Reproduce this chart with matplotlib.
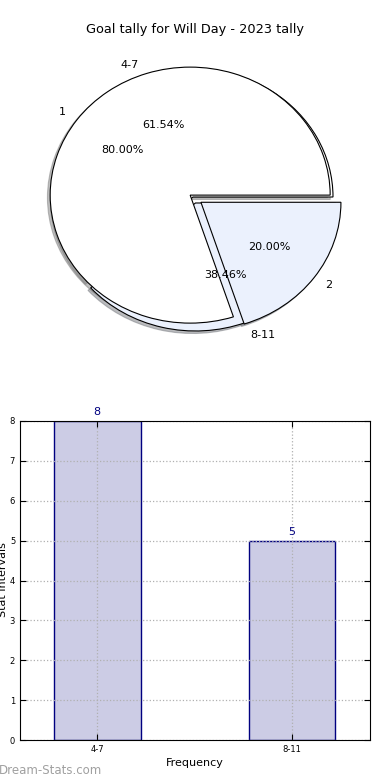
"""Goal tally chart: overlaid pies on top, frequency bars below."""
import matplotlib
matplotlib.use("Agg")
import matplotlib.pyplot as plt

title = "Goal tally for Will Day - 2023 tally"

# pie of goal-count intervals
interval_labels = ["4-7", "8-11"]
interval_counts = [8, 5]

# pie of goals per game
goal_labels = ["1", "2"]
goal_counts = [4, 1]

pie_colors = ["#ffffff", "#ebf1fd"]
bar_face = "#cccce5"
bar_edge = "#000080"

fig = plt.figure(figsize=(3.9, 7.8), dpi=100)
fig.text(0.5, 1 - 30 / 780, title, ha="center", va="center", fontsize=9.3)

# top: two pies drawn on one set of axes
ax1 = fig.add_axes([18 / 390, 1 - 357 / 780, 350 / 390, 320 / 780])
wp = dict(edgecolor="black", linewidth=0.8)
sh = dict(ox=-0.014, oy=-0.014, shade=0.5)
ax1.pie(interval_counts, labels=interval_labels, colors=pie_colors,
        explode=(0, 0.05), autopct="%1.2f%%", shadow=sh,
        wedgeprops=wp, textprops=dict(fontsize=8))
ax1.pie(goal_counts, labels=goal_labels, colors=pie_colors,
        explode=(0.025, 0.07), autopct="%1.2f%%", shadow=sh,
        wedgeprops=wp, textprops=dict(fontsize=8))
ax1.set_aspect("auto")
ax1.set_xlim(-1.25, 1.25)
ax1.set_ylim(-1.25, 1.25)

# bottom: bar chart of the interval counts
ax2 = fig.add_axes([20 / 390, 40 / 780, 350 / 390, 319 / 780])
xs = range(len(interval_labels))
bars = ax2.bar(xs, interval_counts, width=0.446, color=bar_face,
               edgecolor=bar_edge, linewidth=1.0, zorder=1)
for b, v in zip(bars, interval_counts):
    ax2.text(b.get_x() + b.get_width() / 2, v + 0.1, str(v), ha="center",
             va="bottom", color=bar_edge, fontsize=8)
ax2.set_xlim(-0.395, 1.4)
ax2.set_ylim(0, 8)
ax2.set_xticks(list(xs))
ax2.set_xticklabels(interval_labels)
ax2.set_yticks(range(0, 9))
ax2.tick_params(direction="in", top=True, right=True, labelsize=6, length=4)
ax2.set_axisbelow("line")
ax2.grid(True, linestyle=":", color="#b0b0b0", linewidth=0.9)
ax2.set_xlabel("Frequency", fontsize=8, labelpad=3)
fig.text(0.008, 1 - 580 / 780, "Stat Intervals", rotation=90,
         ha="center", va="center", fontsize=8)
fig.text(-0.004, 1 - 771 / 780, "Dream-Stats.com", ha="left", va="center",
         fontsize=8.5, color="#a0a0a0")

fig.savefig("out.png", dpi=100)
